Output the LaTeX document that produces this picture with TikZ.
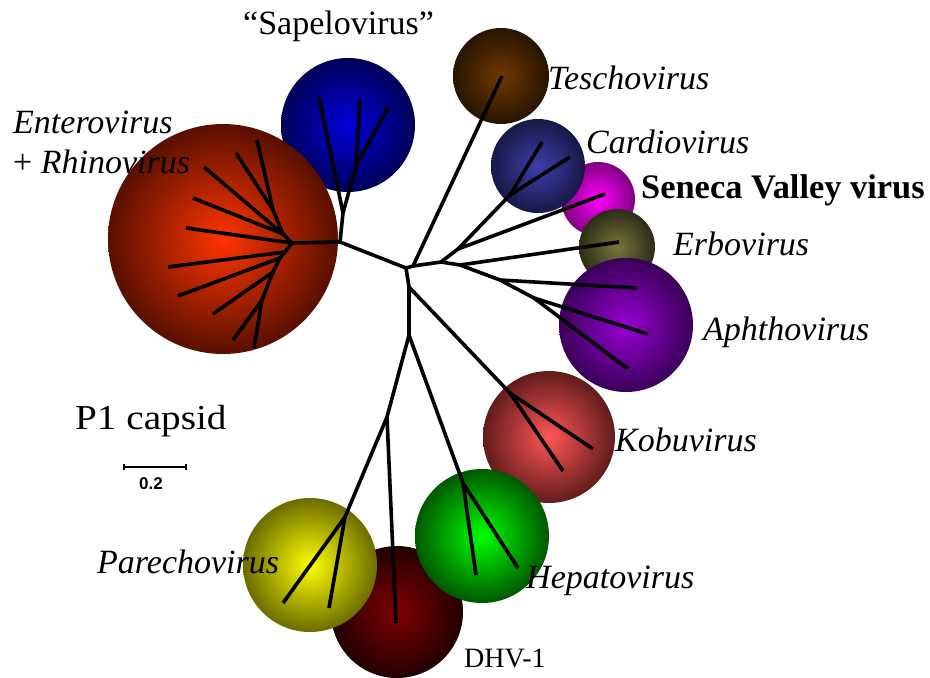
\documentclass[tikz,border=0pt]{standalone}
\usepackage{fontspec}
\setmainfont{Liberation Serif}
\newfontfamily\arialfont{Liberation Sans}
\definecolor{enIn}{RGB}{255,52,0}\definecolor{enOut}{RGB}{88,16,0}
\definecolor{saIn}{RGB}{0,0,218}\definecolor{saOut}{RGB}{0,0,88}
\definecolor{teIn}{RGB}{112,56,4}\definecolor{teOut}{RGB}{40,20,0}
\definecolor{caIn}{RGB}{62,62,172}\definecolor{caOut}{RGB}{24,24,70}
\definecolor{seIn}{RGB}{255,0,255}\definecolor{seOut}{RGB}{128,0,128}
\definecolor{erIn}{RGB}{118,118,58}\definecolor{erOut}{RGB}{44,44,24}
\definecolor{apIn}{RGB}{152,0,212}\definecolor{apOut}{RGB}{58,0,88}
\definecolor{koIn}{RGB}{255,86,86}\definecolor{koOut}{RGB}{98,28,28}
\definecolor{heIn}{RGB}{0,255,0}\definecolor{heOut}{RGB}{0,88,0}
\definecolor{dhIn}{RGB}{128,0,0}\definecolor{dhOut}{RGB}{34,0,0}
\definecolor{paIn}{RGB}{255,255,0}\definecolor{paOut}{RGB}{108,108,0}
\begin{document}
\begin{tikzpicture}[x=1pt,y=-1pt,
  branch/.style={line width=3.6pt, line join=round},
  lab/.style={anchor=base west, inner sep=0pt, font=\fontsize{34}{40}\selectfont\itshape},
  uplab/.style={anchor=base west, inner sep=0pt, font=\fontsize{34}{40}\selectfont}]
\useasboundingbox (0,0) rectangle (930,678);
% ---- clusters (shaded balls)
\shade[inner color=saIn, outer color=saOut] (348,125) circle (67);
\shade[inner color=enIn, outer color=enOut] (223,239) circle (115);
\shade[inner color=teIn, outer color=teOut] (501,76) circle (48);
\shade[inner color=seIn, outer color=seOut] (598,199) circle (37);
\shade[inner color=caIn, outer color=caOut] (538,166) circle (47);
\shade[inner color=erIn, outer color=erOut] (617,247) circle (38);
\shade[inner color=apIn, outer color=apOut] (626,325) circle (67);
\shade[inner color=dhIn, outer color=dhOut] (397,612) circle (66);
\shade[inner color=paIn, outer color=paOut] (310,565) circle (67);
\shade[inner color=koIn, outer color=koOut] (549,437) circle (66);
\shade[inner color=heIn, outer color=heOut] (482,536) circle (67);
% ---- tree coordinates
\coordinate (root) at (406,268);
\coordinate (A) at (340,242);
\coordinate (S1) at (343,213);
\coordinate (S2) at (356,166);
\coordinate (s1) at (319,97);
\coordinate (s2) at (360,99);
\coordinate (s3) at (389,106);
\coordinate (E0) at (292,243);
\coordinate (Eu) at (283,234);
\coordinate (Eu1) at (273,210);
\coordinate (e1) at (257,140);
\coordinate (e2) at (236,153);
\coordinate (e3) at (204,167);
\coordinate (e4) at (193,198);
\coordinate (e5) at (186,228);
\coordinate (El) at (285,252);
\coordinate (El2) at (280,258);
\coordinate (El3) at (273,272);
\coordinate (El4) at (262,300);
\coordinate (e6) at (168,267);
\coordinate (e7) at (178,296);
\coordinate (e8) at (213,314);
\coordinate (e9) at (233,340);
\coordinate (e10) at (254,348);
\coordinate (R1) at (413,266);
\coordinate (t1) at (502,76);
\coordinate (R2) at (441,262);
\coordinate (C0) at (458,249);
\coordinate (sv) at (605,194);
\coordinate (C1) at (510,195);
\coordinate (c1) at (542,142);
\coordinate (c2) at (570,157);
\coordinate (A1) at (460,265);
\coordinate (er) at (619,242);
\coordinate (A2) at (500,280);
\coordinate (a1) at (637,288);
\coordinate (A3) at (534,298);
\coordinate (a2) at (648,334);
\coordinate (a3) at (628,369);
\coordinate (D0) at (409,287);
\coordinate (K0) at (510,393);
\coordinate (k1) at (593,449);
\coordinate (k2) at (563,471);
\coordinate (D1) at (409,335);
\coordinate (P0) at (387,417);
\coordinate (P1) at (345,517);
\coordinate (p1) at (283,603);
\coordinate (p2) at (329,608);
\coordinate (dh) at (396,623);
\coordinate (H0) at (463,483);
\coordinate (h1) at (476,575);
\coordinate (h2) at (518,568);
% ---- branches
\draw[branch] (root) -- (A) -- (S1) -- (s1);
\draw[branch] (S1) -- (S2) -- (s2);
\draw[branch] (S2) -- (s3);
\draw[branch] (A) -- (E0) -- (Eu) -- (Eu1) -- (e1);
\draw[branch] (Eu1) -- (e2);
\draw[branch] (Eu) -- (e3);
\draw[branch] (Eu) -- (e4);
\draw[branch] (E0) -- (e5);
\draw[branch] (E0) -- (El) -- (e6);
\draw[branch] (El) -- (El2) -- (e7);
\draw[branch] (El2) -- (El3) -- (e8);
\draw[branch] (El3) -- (El4) -- (e9);
\draw[branch] (El4) -- (e10);
\draw[branch] (root) -- (R1) -- (t1);
\draw[branch] (R1) -- (R2) -- (C0) -- (sv);
\draw[branch] (C0) -- (C1) -- (c1);
\draw[branch] (C1) -- (c2);
\draw[branch] (R2) -- (A1) -- (er);
\draw[branch] (A1) -- (A2) -- (a1);
\draw[branch] (A2) -- (A3) -- (a2);
\draw[branch] (A3) -- (a3);
\draw[branch] (root) -- (D0) -- (K0) -- (k1);
\draw[branch] (K0) -- (k2);
\draw[branch] (D0) -- (D1) -- (P0) -- (P1) -- (p1);
\draw[branch] (P1) -- (p2);
\draw[branch] (P0) -- (dh);
\draw[branch] (D1) -- (H0) -- (h1);
\draw[branch] (H0) -- (h2);
% ---- labels
\node[uplab] (lsap) at (243,34) {“Sapelovirus”};
\node[lab] (lent) at (13,133) {Enterovirus};
\node[lab] (lrhi) at (13,173) {{\upshape +} Rhinovirus};
\node[lab] (ltes) at (548,89) {Teschovirus};
\node[lab] (lcar) at (586,153) {Cardiovirus};
\node[uplab, font=\fontsize{34.4}{40}\selectfont\bfseries] (lsen) at (641,198) {Seneca Valley virus};
\node[lab] (lerb) at (673,255) {Erbovirus};
\node[lab] (laph) at (703,340) {Aphthovirus};
\node[lab] (lkob) at (615,451) {Kobuvirus};
\node[lab] (lhep) at (526,588) {Hepatovirus};
\node[lab] (lpar) at (97,573) {Parechovirus};
\node[uplab, font=\fontsize{28}{32}\selectfont] (ldhv) at (464,667) {DHV-1};
\node[uplab, font=\fontsize{35}{40}\selectfont] (lp1) at (75,429) {\scalebox{1.12}[1]{P1 capsid}};
% ---- scale bar
\coordinate (sb1) at (124,467);
\coordinate (sb2) at (186,467);
\draw[line width=2pt] (sb1) -- (sb2);
\draw[line width=1.6pt] ([yshift=-3]sb1) -- ([yshift=3]sb1);
\draw[line width=1.6pt] ([yshift=-3]sb2) -- ([yshift=3]sb2);
\node[anchor=base, inner sep=0pt, font=\arialfont\bfseries\fontsize{17}{20}\selectfont] (lsb) at (151,489) {0.2};
\end{tikzpicture}
\end{document}
